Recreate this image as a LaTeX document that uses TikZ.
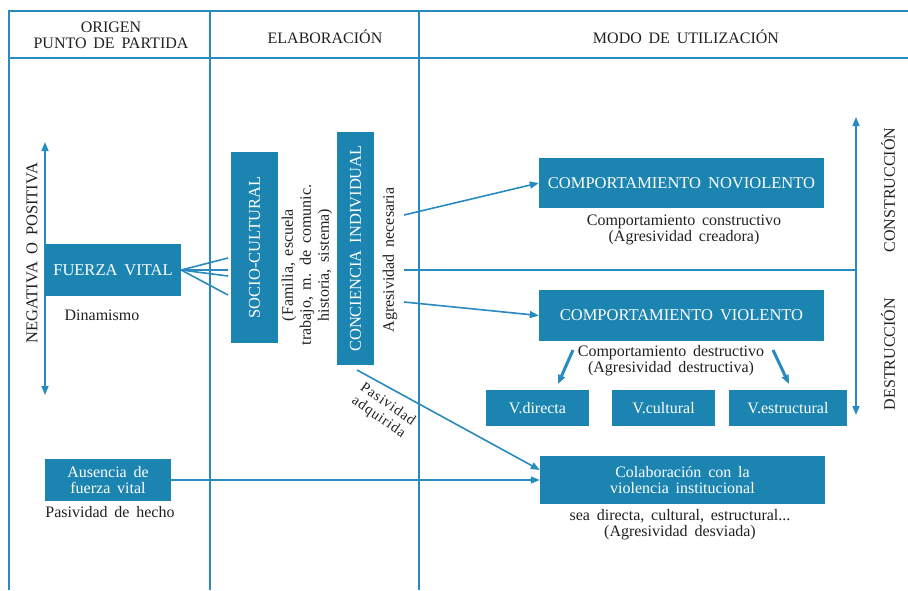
\documentclass[tikz,border=0pt]{standalone}
\usepackage{fontspec}
\setmainfont[WordSpace={1.7}]{Liberation Serif}
\usetikzlibrary{arrows.meta}
\definecolor{boxblue}{RGB}{27,132,177}
\definecolor{lineblue}{RGB}{40,138,190}
\definecolor{ink}{RGB}{35,31,32}
\begin{document}
\begin{tikzpicture}[x=1pt,y=-1pt,
  font=\fontsize{16}{16}\selectfont, text=ink,
  frame/.style={draw=lineblue, line width=1.8pt},
  conn/.style={draw=lineblue, line width=1.6pt},
  thick conn/.style={draw=lineblue, line width=3pt},
  tip/.style={-{Triangle[length=9pt,width=7pt]}},
  dtip/.style={{Triangle[length=9pt,width=7pt]}-{Triangle[length=9pt,width=7pt]}},
  bbox/.style={fill=boxblue, text=white, inner sep=0pt, align=center},
  caps/.style={font=\fontsize{16.5}{17}\selectfont},
  lbl/.style={inner sep=0pt, align=center}]
\useasboundingbox (0,0) rectangle (908,590);
% frame
\draw[frame] (908,11) -- (9,11) -- (9,590);
\draw[frame] (9,58) -- (908,58);
\draw[frame] (210,11) -- (210,590);
\draw[frame] (419,11) -- (419,590);
% headers
\node[lbl, font=\fontsize{16}{16}\selectfont] (h1) at (111,35) {ORIGEN\\PUNTO DE PARTIDA};
\node[lbl] (h2) at (325,37) {ELABORACIÓN};
\node[lbl] (h3) at (686,37) {MODO DE UTILIZACIÓN};
% left column
\coordinate (la1) at (45,142);
\coordinate (la2) at (45,395);
\draw[conn, dtip] (la1) -- (la2);
\node[lbl, caps, rotate=90] (neg) at (32,253) {NEGATIVA O POSITIVA};
\node[bbox, caps, minimum width=136pt, minimum height=52pt] (fv) at (113,270) {FUERZA VITAL};
\node[lbl] (din) at (102,315) {Dinamismo};
\node[bbox, minimum width=126pt, minimum height=42pt] (aus) at (108,480) {Ausencia de\\fuerza vital};
\node[lbl] (pas) at (110,512) {Pasividad de hecho};
% fan lines
\coordinate (f1) at (228,258);
\coordinate (f2) at (228,270);
\coordinate (f3) at (228,276);
\coordinate (f4) at (228,295);
\foreach \f in {f1,f2,f3,f4} \draw[conn] (fv.east) -- (\f);
% elaboracion
\node[bbox, caps, rotate=90, minimum width=191pt, minimum height=47pt] (soc) at (254.5,247.5) {SOCIO-CULTURAL};
\node[lbl, rotate=90, font=\fontsize{16}{18}\selectfont] (fam) at (307,265) {(Familia, escuela\\trabajo, m. de comunic.\\historia, sistema)};
\node[bbox, caps, rotate=90, minimum width=233pt, minimum height=37pt] (con) at (355.5,248.5) {CONCIENCIA INDIVIDUAL};
\node[lbl, rotate=90] (agr) at (390,260) {Agresividad necesaria};
\node[lbl, rotate=-35, font=\fontsize{14.5}{16}\selectfont\addfontfeatures{LetterSpace=6}] (pad) at (383,411) {Pasividad\\adquirida};
% utilizacion
\node[bbox, caps, minimum width=285pt, minimum height=50pt] (nv) at (681.5,183) {COMPORTAMIENTO NOVIOLENTO};
\node[lbl] (nvt) at (684,230) {Comportamiento constructivo\\(Agresividad creadora)};
\node[bbox, caps, minimum width=285pt, minimum height=51pt] (vi) at (681.5,315.5) {COMPORTAMIENTO VIOLENTO};
\node[lbl] (vit) at (671,361) {Comportamiento destructivo\\(Agresividad destructiva)};
\node[bbox, minimum width=103pt, minimum height=36pt] (vd) at (537.5,408) {V.directa};
\node[bbox, minimum width=103pt, minimum height=36pt] (vc) at (663.5,408) {V.cultural};
\node[bbox, minimum width=118pt, minimum height=36pt] (ve) at (788,408) {V.estructural};
\node[bbox, minimum width=285pt, minimum height=48pt] (col) at (682.5,480) {Colaboración con la\\violencia institucional};
\node[lbl] (colt) at (680,525) {sea directa, cultural, estructural...\\(Agresividad desviada)};
% right axis
\coordinate (ra1) at (856,117);
\coordinate (ra2) at (856,415);
\draw[conn, dtip] (ra1) -- (ra2);
\node[lbl, rotate=90] (cons) at (888,190) {CONSTRUCCIÓN};
\node[lbl, rotate=90] (dest) at (888,354) {DESTRUCCIÓN};
% connectors
\coordinate (a1) at (404,215);
\coordinate (a2) at (404,270);
\coordinate (a2e) at (856,270);
\coordinate (a3) at (404,302);
\coordinate (a4) at (357,370);
\draw[conn, tip] (a1) -- (nv.west);
\draw[conn] (a2) -- (a2e);
\draw[conn, tip] (a3) -- (vi.west);
\draw[conn, tip] (a4) -- ([yshift=10pt]col.west);
\draw[conn, tip] (aus.east) -- (col.west);
\coordinate (d1) at (573,350);
\coordinate (d2) at (558,384);
\coordinate (d3) at (773,350);
\coordinate (d4) at (789,384);
\draw[thick conn, tip] (d1) -- (d2);
\draw[thick conn, tip] (d3) -- (d4);
\end{tikzpicture}
\end{document}
